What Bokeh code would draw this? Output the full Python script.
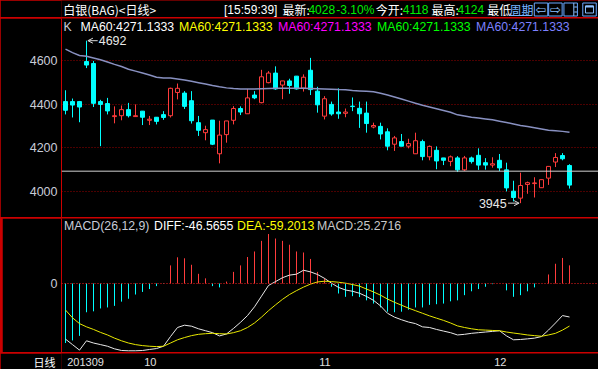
from bokeh.plotting import figure
from bokeh.layouts import column, row
from bokeh.models import Range1d, FixedTicker, Span, Arrow, OpenHead, Spacer, ColumnDataSource
from bokeh.core.properties import value
from bokeh.embed import file_html
from bokeh.resources import INLINE

# ---------------- data ----------------
opens = [4412, 4412, 4412, 4596, 4587, 4412, 4403, 4343, 4347, 4375,
         4343, 4368, 4326, 4340, 4352, 4347, 4454, 4451, 4416, 4315,
         4269, 4327, 4172, 4260, 4326, 4380, 4356, 4442, 4407, 4499,
         4543, 4488, 4507, 4529, 4474, 4556, 4460, 4345, 4399, 4364,
         4358, 4391, 4381, 4359, 4295, 4298, 4273, 4216, 4228, 4207,
         4172, 4228, 4158, 4188, 4153, 4137, 4153, 4098, 4153, 4165,
         4131, 4120, 4142, 4098, 4000, 3968, 4031, 4035, 4016, 4060,
         4134, 4164, 4118]
highs = [4464, 4426, 4415, 4692, 4599, 4420, 4429, 4390, 4394, 4406,
         4399, 4368, 4346, 4340, 4368, 4476, 4495, 4460, 4460, 4346,
         4301, 4327, 4324, 4323, 4391, 4390, 4470, 4460, 4558, 4552,
         4574, 4507, 4517, 4529, 4537, 4613, 4480, 4437, 4412, 4473,
         4380, 4431, 4412, 4412, 4315, 4315, 4289, 4254, 4263, 4241,
         4269, 4237, 4210, 4206, 4153, 4164, 4161, 4162, 4159, 4197,
         4152, 4156, 4171, 4131, 4048, 4085, 4044, 4064, 4053, 4114,
         4175, 4175, 4124]
lows = [4353, 4339, 4317, 4566, 4387, 4207, 4353, 4312, 4326, 4339,
        4343, 4304, 4304, 4307, 4328, 4339, 4422, 4378, 4311, 4254,
        4234, 4212, 4128, 4223, 4307, 4350, 4356, 4423, 4404, 4496,
        4466, 4423, 4448, 4467, 4458, 4442, 4361, 4330, 4347, 4333,
        4340, 4368, 4291, 4269, 4289, 4238, 4188, 4185, 4207, 4197,
        4172, 4142, 4142, 4101, 4120, 4115, 4088, 4093, 4127, 4098,
        4099, 4108, 4093, 3999, 3953, 3945, 3988, 3971, 4016, 4029,
        4111, 4142, 4012]
closes = [4372, 4396, 4387, 4580, 4404, 4399, 4369, 4347, 4375, 4347,
          4347, 4340, 4331, 4321, 4339, 4473, 4473, 4390, 4324, 4280,
          4283, 4216, 4258, 4323, 4380, 4364, 4429, 4429, 4526, 4543,
          4470, 4507, 4486, 4470, 4524, 4467, 4397, 4425, 4355, 4356,
          4364, 4389, 4356, 4311, 4302, 4263, 4207, 4245, 4207, 4219,
          4232, 4159, 4206, 4139, 4142, 4158, 4098, 4153, 4136, 4120,
          4120, 4126, 4107, 4015, 3971, 4026, 4039, 4038, 4053, 4114,
          4155, 4149, 4028]
ma60 = [4653, 4637, 4624, 4620, 4612, 4604, 4594, 4583, 4573, 4561,
        4552, 4543, 4534, 4524, 4520, 4520, 4516, 4511, 4505, 4499,
        4493, 4486, 4480, 4475, 4472, 4470, 4470, 4470, 4471, 4472,
        4473, 4473, 4473, 4473, 4473, 4472, 4471, 4470, 4469, 4467,
        4466, 4463, 4461, 4459, 4457, 4450, 4442, 4433, 4424, 4414,
        4404, 4395, 4387, 4379, 4371, 4363, 4351, 4346, 4340, 4336,
        4332, 4328, 4322, 4316, 4309, 4302, 4297, 4292, 4286, 4280,
        4278, 4275, 4271]
diff = [-77.4, -85.0, -92.7, -79.7, -82.8, -85.0, -87.3, -90.9, -93.2, -93.6,
        -93.6, -93.2, -91.8, -90.5, -87.3, -73.8, -61.2, -58.0, -59.4, -63.0,
        -65.7, -68.4, -72.9, -70.2, -62.5, -54.0, -44.6, -32.4, -17.6, -2.7,
        2.7, 8.1, 11.7, 13.0, 18.5, 16.2, 12.6, 7.2, 0.5, -5.4,
        -9.0, -10.8, -13.5, -18.0, -23.4, -31.1, -41.4, -46.8, -50.4, -53.6,
        -55.8, -60.3, -61.2, -63.9, -66.2, -68.4, -71.6, -70.7, -69.3, -68.4,
        -67.5, -66.6, -65.7, -72.9, -78.3, -77.9, -77.0, -76.0, -73.8, -64.8,
        -54.9, -44.6, -46.6]
dea = [-36.9, -47.7, -55.8, -60.3, -63.9, -68.0, -71.6, -76.0, -79.7, -82.8,
       -85.0, -86.4, -87.3, -87.8, -87.3, -82.8, -78.3, -75.2, -72.5, -70.7,
       -69.8, -69.3, -69.8, -70.2, -68.4, -65.7, -61.2, -54.9, -46.8, -37.8,
       -29.7, -22.0, -15.3, -9.9, -5.0, -0.8, 2.2, 3.2, 2.7, 1.8,
       0.5, -1.4, -3.6, -7.7, -11.7, -16.2, -21.6, -26.1, -30.2, -34.2,
       -37.8, -41.4, -45.0, -48.2, -51.3, -54.9, -59.0, -61.2, -63.0, -64.4,
       -64.8, -65.3, -65.7, -67.5, -68.9, -70.2, -71.6, -72.5, -73.4, -71.6,
       -69.3, -64.8, -59.2]
macd = [-82.8, -79.2, -72.9, -40.0, -38.7, -34.7, -33.3, -31.1, -25.2, -21.2,
        -15.3, -11.7, -7.7, -3.6, -0.5, 25.2, 36.5, 35.1, 26.1, 13.5,
        7.2, -3.6, -5.4, 2.7, 16.2, 25.2, 36.9, 44.6, 59.4, 68.9,
        62.6, 59.4, 54.0, 44.6, 43.2, 34.2, 16.2, 7.2, -4.5, -13.9,
        -18.5, -17.6, -18.9, -23.4, -27.9, -33.3, -39.2, -40.0, -39.2, -36.5,
        -33.3, -33.3, -29.7, -28.8, -27.9, -24.8, -23.4, -16.2, -10.8, -7.7,
        -4.5, -0.9, 0.0, -9.5, -18.5, -16.2, -10.8, -5.4, 0.0, 12.6,
        27.5, 35.6, 25.3]
price_ticks = [4000, 4200, 4400, 4600]
macd_ticks = [0]
date_ticks = [0, 11, 36, 61]
date_labels = ["201309", "10", "11", "12"]
period_label = "日线"
ref_price = 4092
high_idx, high_val = 3, 4692
low_idx, low_val = 65, 3945
ma_legend = ["MA60:4271.1333"] * 5
macd_legend = ["MACD(26,12,9)", "DIFF:-46.5655", "DEA:-59.2013", "MACD:25.2716"]
hdr_cjk = ["白银(BAG)<日线>", "最新:", "今开:", "最高:", "最低", "周期"]
hdr_lat = ["[15:59:39]", "4028", "-3.10%", "4118", "4124"]

# ---------------- styling ----------------
BG = "#000000"
RED_LINE = "#cc0000"
UP = "#ff3c3c"
DOWN = "#00ffff"
GREEN = "#00ee00"
AXIS_TXT = "#c8ccd8"
LINK = "#78b4ff"
LAT = value("Liberation Sans")
CJK = value("Noto Sans CJK SC")

W = 598
LEFT = 61
STEP = 7.0
X0 = -0.5 - 0.5 / STEP
X1 = X0 + (W - LEFT) / STEP
N = len(closes)
idx = list(range(N))


def make_fig(w, h, xr, yr, left=0, y_axis=False):
    p = figure(width=w, height=h, x_range=xr, y_range=yr,
               toolbar_location=None, output_backend="svg",
               x_axis_location=None, y_axis_location=("left" if y_axis else None),
               background_fill_color=BG, border_fill_color=BG, outline_line_color=None,
               min_border_left=left, min_border_right=0, min_border_top=0, min_border_bottom=0)
    p.xgrid.visible = False
    p.ygrid.visible = False
    if y_axis:
        ax = p.yaxis[0]
        ax.axis_line_color = RED_LINE
        ax.axis_line_width = 1
        ax.major_tick_line_color = None
        ax.minor_tick_line_color = None
        ax.major_tick_out = 0
        ax.major_tick_in = 0
        ax.major_label_standoff = 4
        ax.major_label_text_color = AXIS_TXT
        ax.major_label_text_font = "Liberation Sans"
        ax.major_label_text_font_size = "12.5px"
    return p


def px2x(px):
    # reference pixel column -> candle index
    return (px - 64.5) / STEP


# ---------------- header ----------------
hdr = make_fig(W, 17, Range1d(0, W), Range1d(17, 0))
hdr.text(x=[2, 246, 350, 412, 474, 499], y=[8.5] * 6, text=hdr_cjk,
         text_color=["#ffffff"] * 5 + [LINK],
         text_font=CJK, text_font_size="12px", text_baseline="middle", text_align="left")
hdr.text(x=[181, 275, 306, 380, 441], y=[9] * 5, text=hdr_lat,
         text_color=["#ffffff", GREEN, GREEN, GREEN, GREEN],
         text_font=LAT, text_font_size="12px", text_baseline="middle", text_align="left")
hdr.segment(x0=[499], y0=[15], x1=[523], y1=[15], line_color=LINK, line_width=1)
ic_l = [526.5, 542.5, 559.5, 580.5]
ic_r = [541.5, 557.5, 574.5, 595.5]
hdr.quad(left=ic_l, right=ic_r, top=[2.5] * 4, bottom=[15.5] * 4,
         fill_color=None, line_color="#6aa8ff", line_width=1)
hdr.text(x=[534, 550], y=[9, 9], text=["⇦", "⇨"], text_color="#8cc0ff",
         text_font=value("DejaVu Sans"), text_font_size="13px",
         text_baseline="middle", text_align="center")
hdr.segment(x0=[570.5], y0=[2.5], x1=[570.5], y1=[15.5], line_color="#8cc0ff")
hdr.segment(x0=[571, 571], y0=[6.5, 11.5], x1=[574, 574], y1=[6.5, 11.5], line_color="#8cc0ff")
hdr.quad(left=[583.5], right=[592.5], top=[5.5], bottom=[12.5], fill_color=None,
         line_color="#8cc0ff", line_width=1)
hdr.segment(x0=[583.5], y0=[6], x1=[592.5], y1=[6], line_color="#8cc0ff", line_width=2)

# ---------------- main candlestick panel ----------------
pmain = make_fig(W, 199, Range1d(X0, X1), Range1d(3879, 4794), left=LEFT, y_axis=True)
pmain.yaxis.ticker = FixedTicker(ticks=price_ticks)
pmain.ygrid.visible = True
pmain.ygrid.ticker = FixedTicker(ticks=price_ticks)
pmain.ygrid.grid_line_color = "#990000"
pmain.ygrid.grid_line_dash = "1 2"
pmain.ygrid.grid_line_width = 1

pmain.add_layout(Span(location=ref_price, dimension="width", line_color="#d0d0d0", line_width=1))

BODY_W = 4.0 / STEP
up = [i for i in idx if closes[i] >= opens[i]]
dn = [i for i in idx if closes[i] < opens[i]]
src_up = ColumnDataSource(dict(x=up, h=[highs[i] for i in up], l=[lows[i] for i in up],
                               top=[closes[i] for i in up], bot=[opens[i] for i in up]))
src_dn = ColumnDataSource(dict(x=dn, h=[highs[i] for i in dn], l=[lows[i] for i in dn],
                               top=[opens[i] for i in dn], bot=[closes[i] for i in dn]))
pmain.segment(x0="x", y0="h", x1="x", y1="l", source=src_up, line_color=UP, line_width=1)
pmain.vbar(x="x", width=BODY_W, top="top", bottom="bot", source=src_up,
           fill_color=BG, line_color=UP, line_width=1)
pmain.segment(x0="x", y0="h", x1="x", y1="l", source=src_dn, line_color=DOWN, line_width=1)
pmain.vbar(x="x", width=BODY_W, top="top", bottom="bot", source=src_dn,
           fill_color=DOWN, line_color=DOWN, line_width=1)

pmain.line(idx, ma60, line_color="#8890c0", line_width=1.5)

# legend row
leg_x = [px2x(62.6), px2x(79.5), px2x(178), px2x(277), px2x(376), px2x(475)]
leg_t = ["K"] + ma_legend
leg_c = [AXIS_TXT, "#ffffff", "#ffff00", "#ff00ff", "#00ff00", "#7c80ff"]
pmain.text(x=leg_x, y=[4755] * 6, text=leg_t, text_color=leg_c, text_font=LAT,
           text_font_size="12.3px", text_baseline="middle", text_align="left")

# extreme marks
pmain.add_layout(Arrow(end=OpenHead(size=5, line_color="#d8d8d8", line_width=1),
                       x_start=px2x(96.7), y_start=high_val, x_end=high_idx + 0.2, y_end=high_val,
                       line_color="#d8d8d8", line_width=1))
pmain.text(x=[px2x(97.7)], y=[high_val], text=[str(high_val)], text_color="#e8e8e8",
           text_font=LAT, text_font_size="12.5px", text_baseline="middle", text_align="left")
pmain.add_layout(Arrow(end=OpenHead(size=5, line_color="#d8d8d8", line_width=1),
                       x_start=px2x(507), y_start=low_val, x_end=low_idx - 0.2, y_end=low_val,
                       line_color="#d8d8d8", line_width=1))
pmain.text(x=[px2x(505.7)], y=[low_val], text=[str(low_val)], text_color="#e8e8e8",
           text_font=LAT, text_font_size="12.5px", text_baseline="middle", text_align="right")

# ---------------- MACD panel ----------------
pm = make_fig(W - 2, 134, Range1d(X0, X1), Range1d(-96, 90.5), left=LEFT - 2, y_axis=True)
pm.yaxis.ticker = FixedTicker(ticks=macd_ticks)
pm.add_layout(Span(location=0, dimension="width", line_color="#ff2020", line_width=1,
                   line_dash="1 2"))
bar_c = [UP if v > 0 else DOWN for v in macd]
pm.segment(x0=idx, y0=[0] * N, x1=idx, y1=macd, line_color=bar_c, line_width=1)
pm.line(idx, diff, line_color="#e8e8e8", line_width=1)
pm.line(idx, dea, line_color="#e8e800", line_width=1)
mh_x = [px2x(63), px2x(153), px2x(236), px2x(316)]
mh_c = [AXIS_TXT, "#ffffff", "#ffff00", "#c8c8c8"]
pm.text(x=mh_x, y=[79.5] * 4, text=macd_legend, text_color=mh_c, text_font=LAT,
        text_font_size="12.3px", text_baseline="middle", text_align="left")

# ---------------- date strip ----------------
pdate = make_fig(W, 16, Range1d(X0, X1), Range1d(0, 16), left=LEFT, y_axis=True)
pdate.yaxis.ticker = FixedTicker(ticks=[8])
pdate.yaxis.major_label_overrides = {8: period_label}
pdate.yaxis.axis_line_color = None
pdate.yaxis.major_label_text_font = "Noto Sans CJK SC"
pdate.yaxis.major_label_text_font_size = "11px"
pdate.yaxis.major_label_text_color = "#ffffff"
pdate.yaxis.major_label_standoff = 6
lab_x = [max(t + 0.25, -0.25) for t in date_ticks]
pdate.text(x=lab_x, y=[8] * len(lab_x), text=date_labels, text_color="#e0e0e0",
           text_font=LAT, text_font_size="11px", text_baseline="middle", text_align="left")

layout = column(hdr, pmain, row(Spacer(width=2, height=134), pm), pdate,
                spacing=1, styles={"background-color": RED_LINE})

open("out.html", "w").write(file_html(layout, INLINE))
